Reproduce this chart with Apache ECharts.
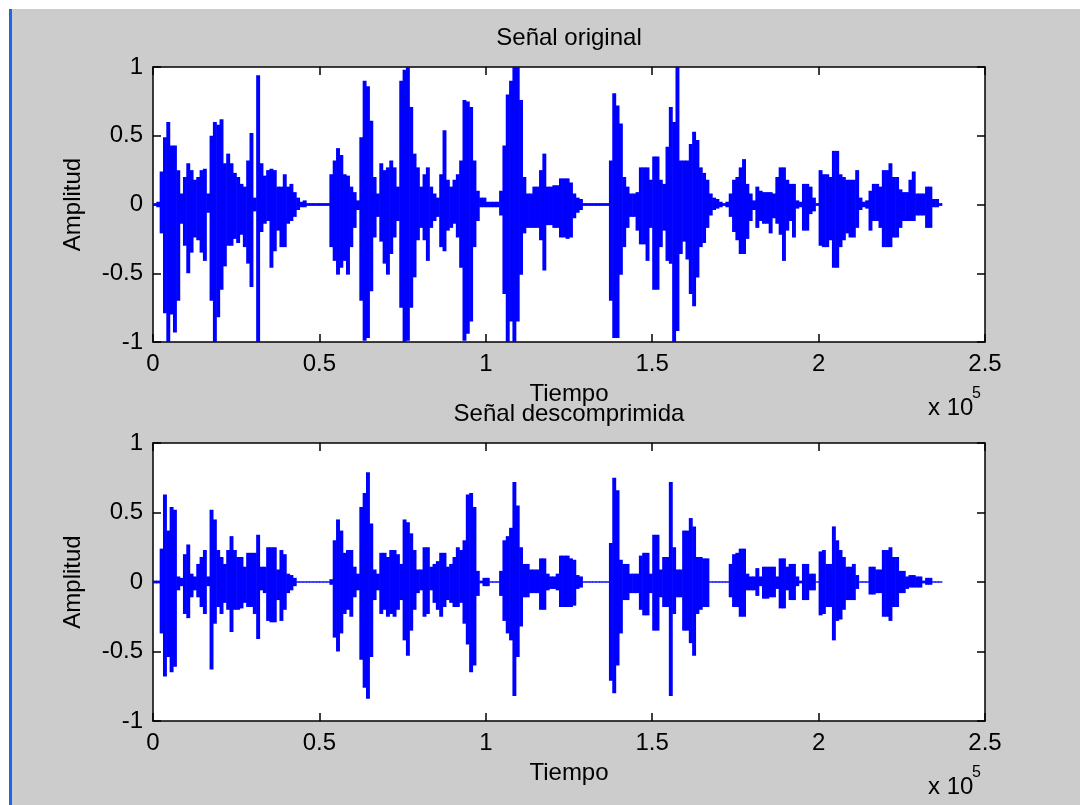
<!DOCTYPE html>
<html><head><meta charset="utf-8">
<script src="https://cdn.jsdelivr.net/npm/echarts@6/dist/echarts.min.js"></script>
<style>
html,body{margin:0;padding:0;background:#fff;overflow:hidden;}
#frame{position:absolute;left:12px;top:9px;width:1068px;height:796px;background:#cccccc;}
#edge{position:absolute;left:9px;top:9px;width:3px;height:796px;background:#1f66e5;}
#chart{position:absolute;left:0;top:0;width:1080px;height:805px;}
</style></head><body>
<div id="frame"></div><div id="edge"></div><div id="chart"></div>
<script>
// samples per envelope bin
const STEP = 1000;
const titles = ['Señal original', 'Señal descomprimida'];
const xName = 'Tiempo';
const yName = 'Amplitud';
const xTickLabels = ['0', '0.5', '1', '1.5', '2', '2.5'];
const yTickLabels = ['-1', '-0.5', '0', '0.5', '1'];

// envelope (max / min per bin of 1000 samples) — original signal
const topHi = [
0.01,0.02,0.24,0.49,0.6,0.43,0.43,0.25,0.08,0.2,
0.3,0.25,0.18,0.2,0.25,0.26,0.08,0.5,0.6,0.58,
0.62,0.3,0.37,0.3,0.23,0.2,0.15,0.13,0.32,0.52,
0.05,0.94,0.3,0.21,0.25,0.26,0.25,0.13,0.13,0.22,
0.13,0.15,0.09,0.05,0.02,0.03,0.01,0.01,0.01,0.01,
0.01,0.01,0.01,0.22,0.32,0.41,0.36,0.22,0.21,0.13,
0.09,0.03,0.49,0.9,0.86,0.61,0.2,0.08,0.3,0.25,
0.27,0.32,0.27,0.13,0.9,0.98,1.0,0.71,0.37,0.27,
0.13,0.22,0.27,0.13,0.08,0.05,0.22,0.54,0.18,0.13,
0.18,0.22,0.32,0.76,0.75,0.71,0.32,0.1,0.05,0.05,
0.02,0.02,0.02,0.02,0.1,0.43,0.8,0.9,1.0,1.0,
0.76,0.2,0.08,0.08,0.13,0.13,
0.25,0.37,0.13,0.13,0.14,0.14,0.19,0.19,0.19,0.16,
0.08,0.05,0.04,0.01,0.01,0.01,0.01,0.01,0.01,0.01,
0.01,0.32,0.81,0.72,0.59,0.2,0.13,0.08,0.08,0.09,
0.27,0.27,0.27,0.18,0.35,0.35,0.18,0.15,0.42,0.71,
0.6,1.0,0.32,0.32,0.32,0.44,0.53,0.47,0.27,0.23,
0.18,0.08,0.05,0.04,0.02,0.01,0.02,0.08,0.18,0.2,
0.27,0.33,0.15,0.08,0.03,0.13,0.1,0.09,0.09,0.09,
0.08,0.2,0.27,0.27,0.18,0.15,0.15,0.03,0.02,0.15,
0.15,0.13,0.05,0.01,0.25,0.22,0.22,0.2,0.39,0.39,
0.22,0.2,0.18,0.18,0.18,0.25,0.05,0.02,0.03,0.1,
0.15,0.15,0.13,0.25,0.25,0.3,0.2,0.2,0.11,0.09,
0.09,0.18,0.24,0.08,0.08,0.08,0.13,0.13,0.04,0.04,
0.01];
const topLo = [
-0.01,-0.02,-0.21,-0.79,-1.0,-0.8,-0.93,-0.7,-0.14,-0.3,
-0.5,-0.35,-0.24,-0.26,-0.35,-0.41,-0.06,-0.7,-1.0,-0.82,
-0.62,-0.45,-0.3,-0.3,-0.25,-0.28,-0.22,-0.31,-0.43,-0.6,
-0.05,-1.0,-0.2,-0.14,-0.12,-0.46,-0.34,-0.19,-0.31,-0.31,
-0.14,-0.12,-0.09,-0.04,-0.02,-0.02,-0.01,-0.01,-0.01,-0.01,
-0.01,-0.01,-0.01,-0.31,-0.41,-0.51,-0.46,-0.41,-0.51,-0.31,
-0.17,-0.04,-0.7,-0.99,-0.97,-0.63,-0.24,-0.09,-0.27,-0.43,
-0.51,-0.36,-0.24,-0.12,-0.75,-1.0,-0.99,-0.75,-0.53,-0.26,
-0.17,-0.26,-0.41,-0.17,-0.12,-0.09,-0.31,-0.34,-0.19,-0.17,
-0.14,-0.24,-0.46,-0.99,-0.94,-0.85,-0.31,-0.12,-0.02,-0.02,
-0.02,-0.02,-0.02,-0.02,-0.08,-0.65,-1.0,-0.85,-1.0,-0.85,
-0.51,-0.21,-0.17,-0.17,-0.17,-0.17,
-0.26,-0.48,-0.15,-0.15,-0.17,-0.17,-0.24,-0.24,-0.25,-0.24,
-0.1,-0.06,-0.04,-0.01,-0.01,-0.01,-0.01,-0.01,-0.01,-0.01,
-0.01,-0.7,-0.97,-0.97,-0.51,-0.31,-0.17,-0.09,-0.09,-0.19,
-0.29,-0.29,-0.41,-0.17,-0.62,-0.62,-0.31,-0.19,-0.41,-0.43,
-1.0,-0.92,-0.36,-0.27,-0.4,-0.65,-0.74,-0.53,-0.31,-0.28,
-0.17,-0.08,-0.04,-0.03,-0.02,-0.01,-0.02,-0.09,-0.2,-0.26,
-0.36,-0.36,-0.25,-0.12,-0.04,-0.17,-0.12,-0.14,-0.14,-0.21,
-0.1,-0.14,-0.22,-0.41,-0.19,-0.12,-0.24,-0.03,-0.02,-0.19,
-0.19,-0.07,-0.05,-0.01,-0.3,-0.31,-0.31,-0.26,-0.46,-0.46,
-0.31,-0.26,-0.21,-0.24,-0.24,-0.17,-0.04,-0.02,-0.03,-0.19,
-0.12,-0.12,-0.17,-0.31,-0.31,-0.31,-0.24,-0.24,-0.17,-0.12,
-0.12,-0.12,-0.12,-0.08,-0.08,-0.08,-0.17,-0.17,-0.02,-0.02,
-0.01];

// envelope — decompressed signal
const botHi = [
0.01,0.01,0.24,0.63,0.37,0.54,0.52,0.04,0.03,0.2,
0.27,0.06,0.04,0.13,0.18,0.23,0.04,0.52,0.45,0.23,
0.18,0.13,0.23,0.33,0.23,0.18,0.18,0.11,0.21,0.21,
0.21,0.34,0.11,0.11,0.25,0.25,0.25,0.09,0.23,0.2,
0.06,0.05,0.03,0.005,0.005,0.005,0.005,0.005,0.005,0.005,
0.005,0.005,0.005,0.02,0.3,0.45,0.37,0.21,0.23,0.23,
0.11,0.06,0.54,0.64,0.79,0.42,0.09,0.06,0.21,0.21,
0.18,0.23,0.23,0.2,0.13,0.45,0.43,0.35,0.23,0.09,
0.09,0.25,0.25,0.11,0.13,0.15,0.21,0.21,0.11,0.13,
0.18,0.25,0.23,0.3,0.63,0.64,0.54,0.08,0.01,0.03,
0.03,0.005,0.005,0.005,0.08,0.3,0.33,0.39,0.72,0.55,
0.25,0.13,0.13,0.09,0.09,0.09,
0.17,0.17,0.06,0.04,0.04,0.06,0.19,0.19,0.19,0.17,
0.16,0.05,0.04,0.005,0.005,0.005,0.005,0.005,0.005,0.005,
0.005,0.28,0.75,0.66,0.16,0.13,0.13,0.06,0.06,0.06,
0.19,0.21,0.21,0.06,0.34,0.34,0.09,0.18,0.18,0.72,
0.25,0.09,0.09,0.37,0.37,0.46,0.4,0.18,0.18,0.17,
0.17,0.005,0.005,0.005,0.005,0.005,0.005,0.13,0.2,0.21,
0.24,0.24,0.06,0.04,0.04,0.1,0.04,0.11,0.11,0.11,
0.11,0.04,0.17,0.17,0.11,0.13,0.13,0.04,0.01,0.13,
0.13,0.06,0.06,0.005,0.22,0.23,0.13,0.13,0.4,0.3,
0.23,0.18,0.11,0.11,0.13,0.05,0.005,0.005,0.005,0.11,
0.11,0.09,0.09,0.23,0.23,0.25,0.18,0.18,0.08,0.08,
0.04,0.05,0.05,0.04,0.04,0.01,0.03,0.03,0.005,0.005,
0.005];
const botLo = [
-0.01,-0.01,-0.37,-0.68,-0.54,-0.65,-0.61,-0.06,-0.03,-0.23,
-0.26,-0.11,-0.06,-0.11,-0.18,-0.23,-0.03,-0.63,-0.3,-0.18,
-0.23,-0.15,-0.2,-0.36,-0.2,-0.2,-0.19,-0.15,-0.18,-0.18,
-0.23,-0.41,-0.06,-0.08,-0.28,-0.29,-0.29,-0.13,-0.28,-0.2,
-0.08,-0.06,-0.03,-0.005,-0.005,-0.005,-0.005,-0.005,-0.005,-0.005,
-0.005,-0.005,-0.005,-0.02,-0.4,-0.5,-0.37,-0.23,-0.2,-0.25,
-0.11,-0.06,-0.56,-0.76,-0.84,-0.54,-0.13,-0.06,-0.23,-0.2,
-0.25,-0.23,-0.25,-0.2,-0.13,-0.42,-0.53,-0.35,-0.2,-0.08,
-0.06,-0.25,-0.23,-0.06,-0.15,-0.2,-0.25,-0.18,-0.13,-0.15,
-0.18,-0.18,-0.15,-0.3,-0.45,-0.65,-0.6,-0.1,-0.01,-0.03,
-0.03,-0.005,-0.005,-0.005,-0.1,-0.28,-0.37,-0.42,-0.82,-0.54,
-0.32,-0.11,-0.11,-0.08,-0.08,-0.08,
-0.2,-0.2,-0.06,-0.05,-0.05,-0.06,-0.18,-0.18,-0.18,-0.18,
-0.17,-0.05,-0.04,-0.005,-0.005,-0.005,-0.005,-0.005,-0.005,-0.005,
-0.005,-0.71,-0.8,-0.6,-0.37,-0.13,-0.13,-0.08,-0.08,-0.08,
-0.2,-0.24,-0.24,-0.08,-0.35,-0.35,-0.11,-0.18,-0.18,-0.82,
-0.23,-0.11,-0.11,-0.35,-0.35,-0.44,-0.53,-0.23,-0.2,-0.18,
-0.18,-0.005,-0.005,-0.005,-0.005,-0.005,-0.005,-0.11,-0.18,-0.18,
-0.25,-0.25,-0.06,-0.06,-0.06,-0.1,-0.03,-0.12,-0.12,-0.11,
-0.11,-0.05,-0.19,-0.19,-0.06,-0.13,-0.13,-0.03,-0.01,-0.13,
-0.13,-0.06,-0.06,-0.005,-0.24,-0.23,-0.18,-0.18,-0.42,-0.28,
-0.27,-0.2,-0.13,-0.13,-0.13,-0.05,-0.005,-0.005,-0.005,-0.09,
-0.09,-0.08,-0.08,-0.25,-0.25,-0.28,-0.18,-0.18,-0.08,-0.08,
-0.05,-0.04,-0.04,-0.04,-0.04,-0.01,-0.02,-0.02,-0.005,-0.005,
-0.005];

const FONT = '"Liberation Sans", Arial, Helvetica, sans-serif';
const FS = 24;
const INK = '#000';
const BLUE = '#0000ff';

const chart = echarts.init(document.getElementById('chart'), null, {renderer: 'canvas'});

function envData(hi, lo) {
  return hi.map((h, i) => [i * STEP, h, lo[i]]);
}
function renderEnv(params, api) {
  const x0 = api.value(0);
  const p1 = api.coord([x0, api.value(1)]);
  const p2 = api.coord([x0 + STEP, api.value(2)]);
  return {
    type: 'rect',
    shape: {x: p1[0], y: p1[1], width: p2[0] - p1[0] + 0.6, height: Math.max(p2[1] - p1[1], 1.2)},
    style: {fill: BLUE}
  };
}

const lineStyle = {color: INK, width: 1.5};
const labelStyle = {color: INK, fontSize: FS, fontFamily: FONT};

function xAxes(g) {
  return [
    {type: 'value', gridIndex: g, min: 0, max: 250000, interval: 50000, position: 'bottom',
     axisLine: {show: true, onZero: false, lineStyle},
     axisTick: {show: true, inside: true, length: 8, lineStyle},
     axisLabel: Object.assign({show: true, margin: 10, formatter: v => xTickLabels[Math.round(v / 50000)]}, labelStyle),
     splitLine: {show: false},
     name: xName, nameLocation: 'middle', nameGap: 40,
     nameTextStyle: labelStyle},
    {type: 'value', gridIndex: g, min: 0, max: 250000, interval: 50000, position: 'top',
     axisLine: {show: true, onZero: false, lineStyle},
     axisTick: {show: true, inside: true, length: 8, lineStyle},
     axisLabel: {show: false}, splitLine: {show: false}}
  ];
}
function yAxes(g) {
  return [
    {type: 'value', gridIndex: g, min: -1, max: 1, interval: 0.5, position: 'left',
     axisLine: {show: true, onZero: false, lineStyle},
     axisTick: {show: true, inside: true, length: 8, lineStyle},
     axisLabel: Object.assign({show: true, margin: 10, formatter: v => yTickLabels[Math.round((v + 1) / 0.5)]}, labelStyle),
     splitLine: {show: false},
     name: yName, nameLocation: 'middle', nameGap: 68, nameRotate: 90,
     nameTextStyle: labelStyle},
    {type: 'value', gridIndex: g, min: -1, max: 1, interval: 0.5, position: 'right',
     axisLine: {show: true, onZero: false, lineStyle},
     axisTick: {show: true, inside: true, length: 8, lineStyle},
     axisLabel: {show: false}, splitLine: {show: false}}
  ];
}

function txt(text, x, y, size, align) {
  return {type: 'text', x: x, y: y, silent: true,
    style: {text: text, fill: INK, fontSize: size, fontFamily: FONT,
      align: align, textAlign: align, verticalAlign: 'middle', textVerticalAlign: 'middle'}};
}

const option = {
  backgroundColor: 'transparent',
  animation: false,
  grid: [
    {left: 153, top: 67, width: 832, height: 275, show: true, backgroundColor: '#fff', borderWidth: 0},
    {left: 153, top: 443, width: 832, height: 278, show: true, backgroundColor: '#fff', borderWidth: 0}
  ],
  xAxis: [].concat(xAxes(0), xAxes(1)),
  yAxis: [].concat(yAxes(0), yAxes(1)),
  series: [
    {type: 'custom', xAxisIndex: 0, yAxisIndex: 0, data: envData(topHi, topLo),
     encode: {x: 0, y: [1, 2]}, renderItem: renderEnv, clip: true, silent: true},
    {type: 'custom', xAxisIndex: 2, yAxisIndex: 2, data: envData(botHi, botLo),
     encode: {x: 0, y: [1, 2]}, renderItem: renderEnv, clip: true, silent: true}
  ],
  graphic: [
    txt(titles[0], 569, 38, FS, 'center'),
    txt(titles[1], 569, 414, FS, 'center'),
    txt('x 10', 928, 408, FS, 'left'),
    txt('5', 972, 394, 16, 'left'),
    txt('x 10', 928, 787, FS, 'left'),
    txt('5', 972, 773, 16, 'left')
  ]
};
chart.setOption(option);
</script>
</body></html>
